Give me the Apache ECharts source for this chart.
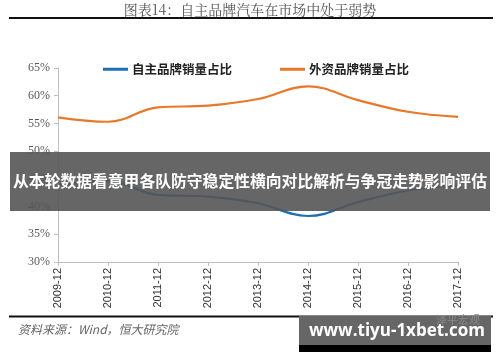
<!DOCTYPE html>
<html><head><meta charset="utf-8">
<script src="https://cdn.jsdelivr.net/npm/echarts@6/dist/echarts.min.js"></script>
<style>html,body{margin:0;padding:0;background:#fff}#c{width:500px;height:362px}</style>
</head><body><div id="c"></div>
<script>
var categories = ['2009-12','2010-12','2011-12','2012-12','2013-12','2014-12','2015-12','2016-12','2017-12'];
var domesticShare = [43.9, 44.6, 42.1, 41.8, 40.6, 38.3, 40.8, 42.9, 43.8];
var foreignShare = [56.1, 55.3, 57.9, 58.2, 59.4, 61.7, 59.2, 57.1, 56.2];
var seriesNames = ['自主品牌销量占比', '外资品牌销量占比'];
var yTicks = [30, 35, 40, 45, 50, 55, 60, 65];
var titleText = '图表14：自主品牌汽车在市场中处于弱势';
var sourceText = '资料来源：Wind，恒大研究院';
var bannerText = '从本轮数据看意甲各队防守稳定性横向对比解析与争冠走势影响评估';
var watermarkText = 'www.tiyu-1xbet.com';
var logoText = '泽平宏观';

var chart = echarts.init(document.getElementById('c'));
chart.setOption({
  animation: false,
  backgroundColor: '#fff',
  grid: {left: 58, right: 42, top: 68, bottom: 100, containLabel: false},
  legend: {
    data: seriesNames, left: 98, top: 58, icon: 'rect', itemWidth: 25, itemHeight: 3, itemGap: 48,
    textStyle: {fontFamily: 'Noto Sans CJK SC', fontSize: 12.5, fontWeight: 'bold', color: '#222', padding: [0,0,0,-1]}
  },
  xAxis: {
    type: 'category', data: categories, boundaryGap: false,
    axisLine: {lineStyle: {color: '#bfbfbf', width: 1}},
    axisTick: {show: true, length: 4, lineStyle: {color: '#bfbfbf'}},
    axisLabel: {rotate: 90, margin: 6, fontFamily: 'Liberation Sans', fontSize: 11, color: '#333', interval: 0}
  },
  yAxis: {
    type: 'value', min: yTicks[0], max: yTicks[yTicks.length-1], interval: 5,
    axisLine: {show: true, lineStyle: {color: '#bfbfbf', width: 1}},
    axisTick: {show: true, length: 4, lineStyle: {color: '#bfbfbf'}},
    splitLine: {show: false},
    axisLabel: {formatter: '{value}%', margin: 8, fontFamily: 'Liberation Serif', fontSize: 12, color: '#595959'}
  },
  series: [
    {name: seriesNames[0], type: 'line', data: domesticShare, smooth: 0.4, symbol: 'none', z: 2,
     lineStyle: {color: '#1f6fb6', width: 2.2}, itemStyle: {color: '#1f6fb6'}},
    {name: seriesNames[1], type: 'line', data: foreignShare, smooth: 0.4, symbol: 'none', z: 2,
     lineStyle: {color: '#e8792a', width: 2.2}, itemStyle: {color: '#e8792a'}}
  ],
  graphic: [
    {type: 'text', left: 'center', top: 3, style: {text: titleText, fontFamily: 'Noto Serif CJK SC, Noto Sans CJK SC', fontSize: 14, fill: '#555'}},
    {type: 'rect', shape: {x: 9, y: 17, width: 484, height: 2}, style: {fill: '#111'}},
    {type: 'rect', shape: {x: 9, y: 315.5, width: 484, height: 2}, style: {fill: '#111'}},
    {type: 'text', left: 18, top: 323, style: {text: sourceText, fontFamily: 'Noto Sans CJK SC', fontStyle: 'italic', fontSize: 12, fill: '#666'}},
    {type: 'rect', z: 100, shape: {x: 10, y: 152, width: 480, height: 59}, style: {fill: 'rgba(85,85,85,0.9)'}},
    {type: 'text', z: 101, left: 'center', top: 173, style: {text: bannerText, fontFamily: 'Noto Sans CJK SC', fontWeight: 'bold', fontSize: 15.8, fill: '#fff'}},
    {type: 'rect', z: 100, shape: {x: 299, y: 316, width: 192, height: 30}, style: {fill: '#666'}},
    {type: 'rect', z: 100, shape: {x: 299, y: 345, width: 192, height: 7}, style: {fill: '#000'}},
    {type: 'text', z: 101, left: 436, top: 314, style: {text: logoText, fontFamily: 'Noto Sans CJK SC', fontSize: 11, fill: '#8a8a8a'}},
    {type: 'text', z: 102, left: 309, top: 323, style: {text: watermarkText, fontFamily: 'Open Sans', fontWeight: 'bold', fontSize: 17, fill: '#fff'}}
  ]
});
</script></body></html>
